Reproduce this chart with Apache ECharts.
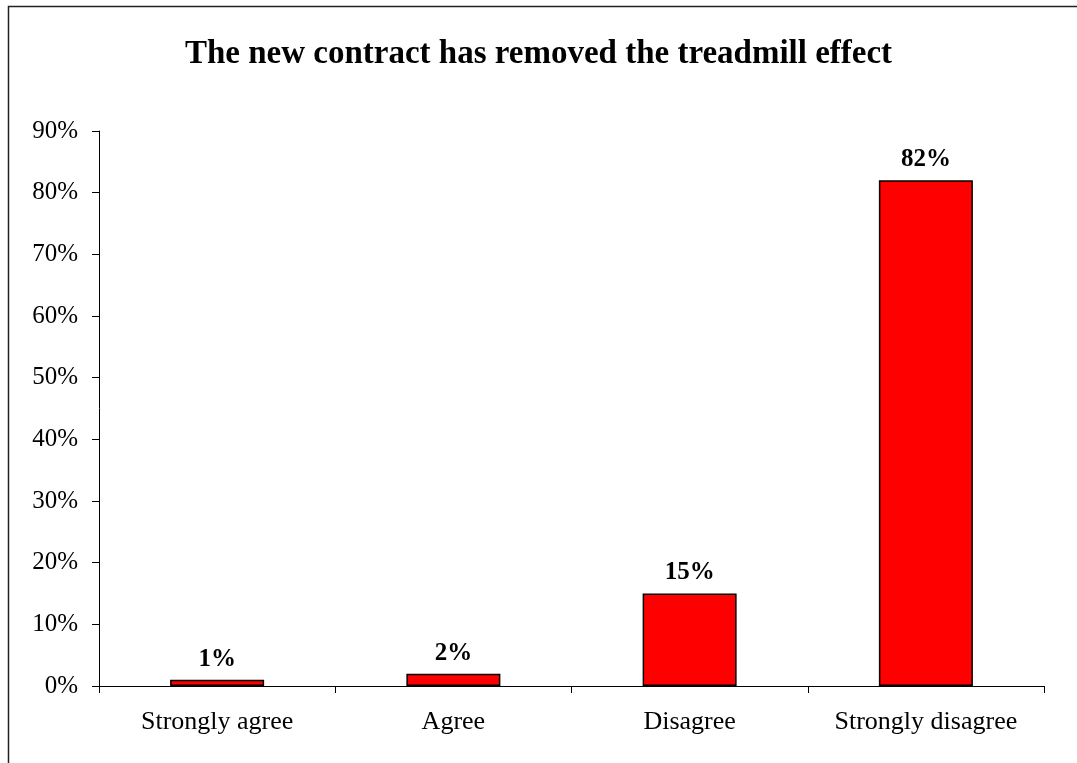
<!DOCTYPE html>
<html><head><meta charset="utf-8">
<script src="https://cdn.jsdelivr.net/npm/echarts@6/dist/echarts.min.js"></script>
<style>html,body{margin:0;padding:0;background:#fff}#c{width:1077px;height:763px}</style>
</head><body><div id="c"></div>
<script>
const title = "The new contract has removed the treadmill effect";
const categories = ["Strongly agree", "Agree", "Disagree", "Strongly disagree"];
const values = [1, 2, 15, 82];
const yTicks = [0, 10, 20, 30, 40, 50, 60, 70, 80, 90];

const chart = echarts.init(document.getElementById('c'));
const font = '"Liberation Serif", "DejaVu Serif", serif';
chart.setOption({
  animation: false,
  backgroundColor: '#fff',
  graphic: [{
    type: 'rect', silent: true,
    shape: { x: 8.5, y: 6.5, width: 1200, height: 900 },
    style: { fill: 'none', stroke: '#222', lineWidth: 1.5 }
  }],
  title: {
    text: title, left: 'center', top: 33,
    textStyle: { fontFamily: font, fontWeight: 'bold', fontSize: 33, color: '#000' }
  },
  grid: { left: 99, right: 33, top: 131, bottom: 77 },
  xAxis: {
    type: 'category', data: categories,
    axisLine: { lineStyle: { color: '#000', width: 1 } },
    axisTick: { show: true, length: 7, interval: 0, lineStyle: { color: '#000' } },
    axisLabel: { fontFamily: font, fontSize: 26, color: '#000', margin: 23, interval: 0 },
    splitLine: { show: false }
  },
  yAxis: {
    type: 'value', min: 0, max: 90, interval: 10,
    axisLine: { show: true, lineStyle: { color: '#000', width: 1 } },
    axisTick: { show: true, length: 7, lineStyle: { color: '#000' } },
    axisLabel: { fontFamily: font, fontSize: 25, color: '#000', margin: 21,
      formatter: v => yTicks.includes(v) ? v + '%' : '' },
    splitLine: { show: false }
  },
  series: [{
    type: 'bar', data: values, barWidth: 94,
    itemStyle: { color: '#ff0000', borderColor: '#000', borderWidth: 1.5 },
    label: { show: true, position: 'top', distance: 8,
      formatter: p => p.value + '%',
      fontFamily: font, fontWeight: 'bold', fontSize: 25, color: '#000' }
  }]
});
</script></body></html>
